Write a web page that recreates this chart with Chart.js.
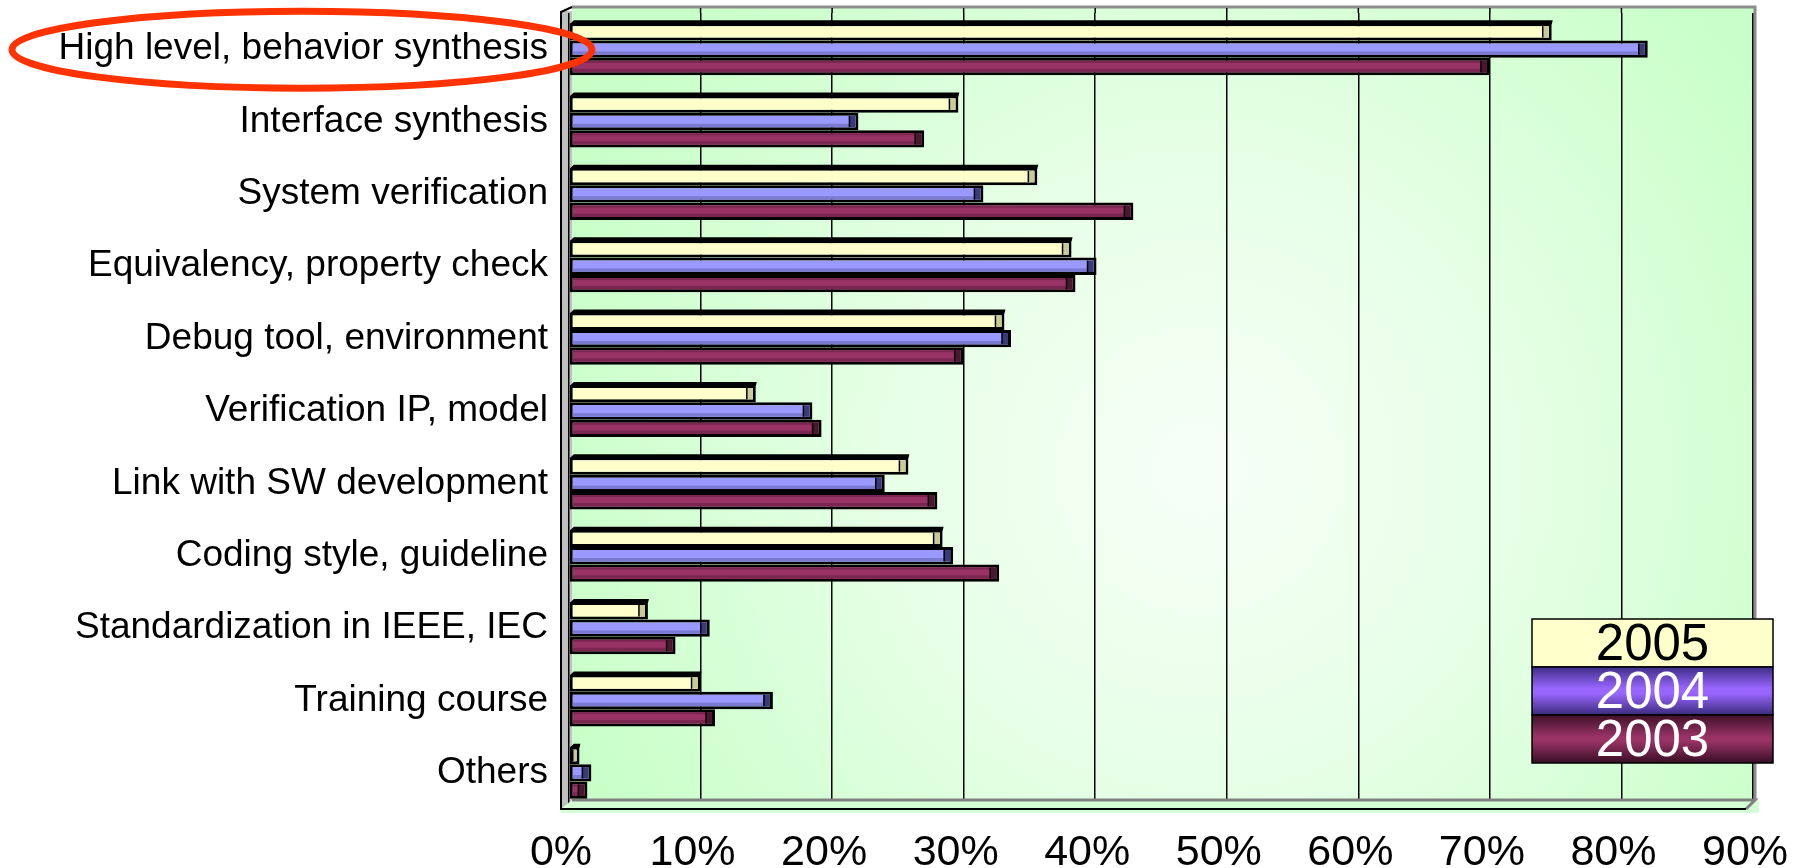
<!DOCTYPE html>
<html>
<head>
<meta charset="utf-8">
<script src="https://cdn.jsdelivr.net/npm/chart.js@4/dist/chart.umd.min.js"></script>
<style>
  html, body { margin: 0; padding: 0; background: #ffffff; overflow: hidden; }
  #wrap { width: 1796px; height: 868px; }
</style>
</head>
<body>
<div id="wrap"><canvas id="c" width="1796" height="868"></canvas></div>
<script>
// Survey topics, top to bottom
const categories = [
  'High level, behavior synthesis',
  'Interface synthesis',
  'System verification',
  'Equivalency, property check',
  'Debug tool, environment',
  'Verification IP, model',
  'Link with SW development',
  'Coding style, guideline',
  'Standardization in IEEE, IEC',
  'Training course',
  'Others'
];

// Share of respondents per year (%)
const seriesLabels = ['2005', '2004', '2003'];
const values2005 = [74.7, 29.6, 35.6, 38.2, 33.1, 14.2, 25.8, 28.4, 6.0, 10.0, 0.8];
const values2004 = [82.0, 22.0, 31.5, 40.1, 33.6, 18.5, 24.0, 29.2, 10.7, 15.5, 1.7];
const values2003 = [70.0, 27.0, 42.9, 38.5, 30.0, 19.2, 28.0, 32.7, 8.1, 11.1, 1.4];

// Value axis ticks (%)
const xTicks = [0, 10, 20, 30, 40, 50, 60, 70, 80, 90];

const FONT = '"Liberation Sans", Arial, Helvetica, sans-serif';

const barFill   = ['#FFFFCC', '#9999FF', '#993366'];
const barShade  = [null, '#7A7AD0', '#7A2650'];
const barEnd    = ['#C9C99A', '#3A3A78', '#4A1630'];
const BAR_BORDER = 3;

// Back wall, left wall and floor of the box
const boxPlugin = {
  id: 'box3d',
  beforeDraw(chart) {
    const { ctx, chartArea: a } = chart;
    const wallTop = a.top - 6, wallBottom = a.bottom - 9;
    const wallLeft = a.left + 3, wallRight = a.right + 2;
    ctx.save();
    const g = ctx.createRadialGradient(1200, 470, 20, 1200, 470, 680);
    g.addColorStop(0, '#F6FFF6');
    g.addColorStop(0.45, '#E6FFE6');
    g.addColorStop(1, '#C8FFC8');
    ctx.fillStyle = g;
    ctx.fillRect(wallLeft, wallTop, wallRight - wallLeft, wallBottom - wallTop);
    // left wall
    ctx.fillStyle = '#C0C0C0';
    ctx.fillRect(a.left - 8, wallTop + 4, wallLeft - (a.left - 8), a.bottom - wallTop - 4);
    // top and right rims
    ctx.strokeStyle = '#8C8C8C';
    ctx.lineWidth = 3;
    ctx.beginPath();
    ctx.moveTo(wallLeft, wallTop);
    ctx.lineTo(wallRight, wallTop);
    ctx.lineTo(wallRight, wallBottom);
    ctx.stroke();
    // gridline stubs above the category range
    const xs = chart.scales.x;
    ctx.strokeStyle = '#000000';
    ctx.lineWidth = 1.5;
    xTicks.forEach(v => {
      if (v === 0 || v === xTicks[xTicks.length - 1]) return;
      const px = xs.getPixelForValue(v);
      ctx.beginPath();
      ctx.moveTo(px, wallTop + 1);
      ctx.lineTo(px, a.top);
      ctx.stroke();
    });
    ctx.restore();
  },
  beforeDatasetsDraw(chart) {
    const { ctx, chartArea: a } = chart;
    const wallBottom = a.bottom - 9;
    const wallRight = a.right + 2;
    ctx.save();
    // floor
    ctx.fillStyle = '#D4FFD4';
    ctx.beginPath();
    ctx.moveTo(a.left - 8, a.bottom);
    ctx.lineTo(a.left + 3, wallBottom);
    ctx.lineTo(wallRight + 4, wallBottom);
    ctx.lineTo(wallRight + 4, a.bottom + 4);
    ctx.lineTo(a.left - 8, a.bottom + 4);
    ctx.closePath();
    ctx.fill();
    ctx.strokeStyle = '#808080';
    ctx.lineWidth = 3;
    ctx.beginPath();
    ctx.moveTo(a.left + 3, wallBottom);
    ctx.lineTo(wallRight, wallBottom);
    ctx.lineTo(wallRight - 9, a.bottom);
    ctx.stroke();
    // front edges
    ctx.strokeStyle = '#000000';
    ctx.lineWidth = 2;
    ctx.beginPath();
    ctx.moveTo(a.left - 8, a.top - 2);
    ctx.lineTo(a.left - 8, a.bottom);
    ctx.lineTo(wallRight - 9, a.bottom);
    ctx.stroke();
    ctx.beginPath();
    ctx.moveTo(a.left - 8, a.top - 1);
    ctx.lineTo(a.left + 3, a.top - 6);
    ctx.stroke();
    ctx.restore();
  },
  afterDatasetsDraw(chart) {
    const { ctx } = chart;
    ctx.save();
    chart.data.datasets.forEach((ds, di) => {
      const meta = chart.getDatasetMeta(di);
      meta.data.forEach(el => {
        const p = el.getProps(['x', 'y', 'base', 'height'], true);
        const bw = BAR_BORDER;
        const oTop = p.y - p.height / 2;
        const top = oTop + bw, bot = p.y + p.height / 2 - bw;
        const left = Math.min(p.base, p.x) + bw, right = Math.max(p.base, p.x) - bw;
        if (right <= left) return;
        if (barShade[di]) {
          ctx.fillStyle = barShade[di];
          const h = bot - top;
          ctx.fillRect(left, bot - h * 0.3, right - left, h * 0.3);
          if (di === 2) ctx.fillRect(left, top, right - left, h * 0.18);
        }
        // top face of the front-most bar
        if (di === 0) {
          ctx.fillStyle = '#000000';
          ctx.beginPath();
          ctx.moveTo(left - bw, oTop + 1);
          ctx.lineTo(left - bw + 4, oTop - 3);
          ctx.lineTo(right + bw + 1, oTop - 3);
          ctx.lineTo(right + bw, oTop + 1);
          ctx.closePath();
          ctx.fill();
        }
        // end face of the bar
        const ew = Math.min(6, right - left);
        ctx.fillStyle = barEnd[di];
        ctx.fillRect(right - ew, top, ew, bot - top);
        ctx.strokeStyle = '#000000';
        ctx.lineWidth = 1.5;
        ctx.beginPath();
        ctx.moveTo(right - ew, top);
        ctx.lineTo(right - ew, bot);
        ctx.stroke();
      });
    });
    ctx.restore();
  }
};

// Stacked year legend with shaded rows
const legendPlugin = {
  id: 'yearLegend',
  afterDraw(chart) {
    const { ctx, chartArea: a } = chart;
    const right = a.right + 20, left = right - 241;
    const bottom = a.bottom - 46, rowH = 48;
    const top = bottom - rowH * seriesLabels.length;
    ctx.save();
    seriesLabels.forEach((lab, i) => {
      const y0 = top + i * rowH;
      let fill;
      if (i === 0) {
        fill = '#FFFFCC';
      } else {
        const g = ctx.createLinearGradient(0, y0, 0, y0 + rowH);
        if (i === 1) {
          g.addColorStop(0, '#3E2E86');
          g.addColorStop(0.45, '#9966FF');
          g.addColorStop(0.55, '#9966FF');
          g.addColorStop(1, '#3A2A7C');
        } else {
          g.addColorStop(0, '#3E1028');
          g.addColorStop(0.45, '#993366');
          g.addColorStop(0.55, '#993366');
          g.addColorStop(1, '#360E24');
        }
        fill = g;
      }
      ctx.fillStyle = fill;
      ctx.fillRect(left, y0, right - left, rowH);
      ctx.strokeStyle = '#000000';
      ctx.lineWidth = 1.5;
      ctx.strokeRect(left, y0, right - left, rowH);
      ctx.fillStyle = i === 0 ? '#000000' : '#FFFFFF';
      ctx.font = '51px ' + FONT;
      ctx.textAlign = 'center';
      ctx.textBaseline = 'middle';
      ctx.fillText(lab, (left + right) / 2, y0 + rowH / 2 + 3);
    });
    ctx.restore();
  }
};

// Highlight ring around the first topic
const ringPlugin = {
  id: 'ring',
  afterDraw(chart) {
    const { ctx, chartArea: a } = chart;
    const cy = chart.scales.y.getPixelForValue(0);
    ctx.save();
    ctx.strokeStyle = '#FF3300';
    ctx.lineWidth = 7;
    ctx.beginPath();
    ctx.ellipse(a.left - 267, cy + 0.5, 290, 38.5, 0, 0, Math.PI * 2);
    ctx.stroke();
    ctx.restore();
  }
};

const fills = [values2005, values2004, values2003];

new Chart(document.getElementById('c'), {
  type: 'bar',
  data: {
    labels: categories,
    datasets: seriesLabels.map((lab, i) => ({
      label: lab,
      data: fills[i],
      backgroundColor: barFill[i],
      borderColor: '#000000',
      borderWidth: BAR_BORDER,
      borderSkipped: false,
      barPercentage: 1.0,
      categoryPercentage: 0.72
    }))
  },
  options: {
    indexAxis: 'y',
    responsive: false,
    animation: false,
    devicePixelRatio: 1,
    layout: { padding: { left: 0, right: 43, top: 13, bottom: 0 } },
    plugins: {
      legend: { display: false },
      tooltip: { enabled: false }
    },
    scales: {
      x: {
        min: 0,
        max: 90,
        afterBuildTicks(scale) { scale.ticks = xTicks.map(v => ({ value: v })); },
        afterFit(scale) {
          scale.height = 59;
          scale.paddingLeft = 0;
          scale.paddingRight = 0;
        },
        ticks: {
          color: '#000000',
          font: { family: FONT, size: 43 },
          padding: 18,
          labelOffset: -8,
          maxRotation: 0,
          autoSkip: false,
          callback: v => v + '%'
        },
        grid: { color: '#000000', lineWidth: 1.5, drawTicks: false },
        border: { display: false }
      },
      y: {
        afterFit(scale) {
          scale.width = 569;
          scale.paddingTop = 0;
          scale.paddingBottom = 0;
        },
        ticks: {
          color: '#000000',
          font: { family: FONT, size: 37 },
          padding: 21,
          autoSkip: false
        },
        grid: { display: false, drawTicks: false },
        border: { display: false }
      }
    }
  },
  plugins: [boxPlugin, legendPlugin, ringPlugin]
});
</script>
</body>
</html>
